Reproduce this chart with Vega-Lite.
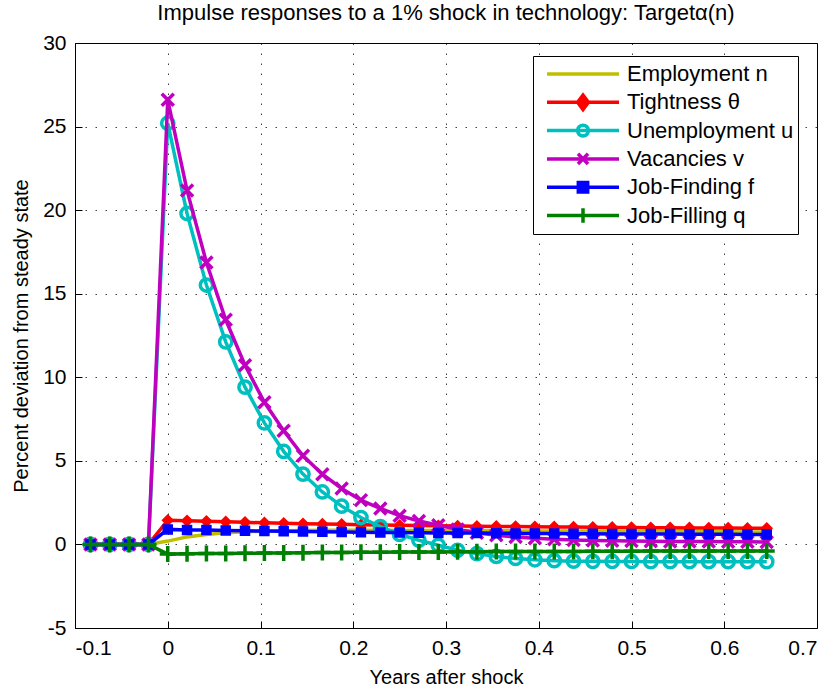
{
  "$schema": "https://vega.github.io/schema/vega-lite/v6.json",
  "autosize": {"type": "none"},
  "width": 742,
  "height": 585,
  "padding": {"left": 75, "top": 43, "right": 20, "bottom": 62},
  "background": "#ffffff",
  "title": {
    "text": "Impulse responses to a 1% shock in technology: Targetα(n)",
    "font": "Liberation Sans",
    "fontSize": 22,
    "fontWeight": "normal",
    "color": "#000000",
    "anchor": "middle",
    "offset": 7
  },
  "config": {
    "view": {"stroke": "#000000", "strokeWidth": 1},
    "axis": {
      "labelFont": "Liberation Sans",
      "labelFontSize": 21,
      "labelColor": "#000000",
      "titleFont": "Liberation Sans",
      "titleFontSize": 20,
      "titleFontWeight": "normal",
      "titleColor": "#000000",
      "domain": false,
      "grid": true,
      "gridColor": "#000000",
      "gridDash": [1.5, 8.5],
      "gridOpacity": 0.75,
      "tickColor": "#000000",
      "tickSize": -7,
      "labelPadding": 16
    },
    "legend": {
      "labelFont": "Liberation Sans",
      "labelFontSize": 22,
      "labelColor": "#000000",
      "labelLimit": 400
    }
  },
  "data": {
    "values": [
      {"x": -0.0833, "n": 0, "th": 0, "u": 0, "v": 0, "f": 0, "q": 0},
      {"x": -0.0625, "n": 0, "th": 0, "u": 0, "v": 0, "f": 0, "q": 0},
      {"x": -0.0417, "n": 0, "th": 0, "u": 0, "v": 0, "f": 0, "q": 0},
      {"x": -0.0208, "n": 0, "th": 0, "u": 0, "v": 0, "f": 0, "q": 0},
      {"x": 0, "n": 0.2, "th": 1.45, "u": 25.2, "v": 26.6, "f": 0.9, "q": -0.58},
      {"x": 0.0208, "n": 0.45, "th": 1.41, "u": 19.8, "v": 21.18, "f": 0.87, "q": -0.56},
      {"x": 0.0417, "n": 0.6, "th": 1.38, "u": 15.52, "v": 16.87, "f": 0.86, "q": -0.55},
      {"x": 0.0625, "n": 0.7, "th": 1.35, "u": 12.12, "v": 13.44, "f": 0.84, "q": -0.54},
      {"x": 0.0833, "n": 0.76, "th": 1.32, "u": 9.41, "v": 10.72, "f": 0.82, "q": -0.53},
      {"x": 0.1042, "n": 0.8, "th": 1.29, "u": 7.27, "v": 8.5, "f": 0.8, "q": -0.52},
      {"x": 0.125, "n": 0.82, "th": 1.27, "u": 5.57, "v": 6.8, "f": 0.79, "q": -0.51},
      {"x": 0.1458, "n": 0.84, "th": 1.24, "u": 4.21, "v": 5.3, "f": 0.77, "q": -0.5},
      {"x": 0.1667, "n": 0.85, "th": 1.22, "u": 3.14, "v": 4.2, "f": 0.76, "q": -0.49},
      {"x": 0.1875, "n": 0.85, "th": 1.2, "u": 2.29, "v": 3.35, "f": 0.74, "q": -0.48},
      {"x": 0.2083, "n": 0.85, "th": 1.18, "u": 1.61, "v": 2.65, "f": 0.73, "q": -0.47},
      {"x": 0.2292, "n": 0.85, "th": 1.16, "u": 1.07, "v": 2.15, "f": 0.72, "q": -0.47},
      {"x": 0.25, "n": 0.84, "th": 1.15, "u": 0.6, "v": 1.72, "f": 0.71, "q": -0.46},
      {"x": 0.2708, "n": 0.84, "th": 1.13, "u": 0.25, "v": 1.4, "f": 0.7, "q": -0.45},
      {"x": 0.2917, "n": 0.83, "th": 1.12, "u": -0.05, "v": 1.15, "f": 0.69, "q": -0.45},
      {"x": 0.3125, "n": 0.83, "th": 1.1, "u": -0.35, "v": 0.9, "f": 0.68, "q": -0.44},
      {"x": 0.3333, "n": 0.82, "th": 1.09, "u": -0.55, "v": 0.7, "f": 0.68, "q": -0.44},
      {"x": 0.3542, "n": 0.82, "th": 1.08, "u": -0.72, "v": 0.55, "f": 0.67, "q": -0.43},
      {"x": 0.375, "n": 0.81, "th": 1.07, "u": -0.84, "v": 0.45, "f": 0.66, "q": -0.43},
      {"x": 0.3958, "n": 0.81, "th": 1.06, "u": -0.92, "v": 0.37, "f": 0.66, "q": -0.42},
      {"x": 0.4167, "n": 0.8, "th": 1.05, "u": -0.97, "v": 0.31, "f": 0.65, "q": -0.42},
      {"x": 0.4375, "n": 0.8, "th": 1.04, "u": -1.0, "v": 0.27, "f": 0.64, "q": -0.42},
      {"x": 0.4583, "n": 0.79, "th": 1.03, "u": -1.01, "v": 0.24, "f": 0.64, "q": -0.41},
      {"x": 0.4792, "n": 0.79, "th": 1.02, "u": -1.02, "v": 0.22, "f": 0.63, "q": -0.41},
      {"x": 0.5, "n": 0.78, "th": 1.01, "u": -1.02, "v": 0.2, "f": 0.63, "q": -0.41},
      {"x": 0.5208, "n": 0.78, "th": 1.0, "u": -1.03, "v": 0.19, "f": 0.62, "q": -0.4},
      {"x": 0.5417, "n": 0.77, "th": 1.0, "u": -1.03, "v": 0.18, "f": 0.62, "q": -0.4},
      {"x": 0.5625, "n": 0.77, "th": 0.99, "u": -1.03, "v": 0.17, "f": 0.61, "q": -0.4},
      {"x": 0.5833, "n": 0.76, "th": 0.98, "u": -1.03, "v": 0.17, "f": 0.61, "q": -0.4},
      {"x": 0.6042, "n": 0.76, "th": 0.98, "u": -1.03, "v": 0.16, "f": 0.61, "q": -0.39},
      {"x": 0.625, "n": 0.75, "th": 0.97, "u": -1.03, "v": 0.16, "f": 0.6, "q": -0.39},
      {"x": 0.6458, "n": 0.75, "th": 0.97, "u": -1.03, "v": 0.15, "f": 0.6, "q": -0.39}
    ]
  },
  "transform": [
    {"fold": ["n", "th", "u", "v", "f", "q"], "as": ["series", "y"]}
  ],
  "encoding": {
    "x": {
      "field": "x",
      "type": "quantitative",
      "scale": {"domain": [-0.1, 0.7], "nice": false, "zero": false},
      "axis": {
        "title": "Years after shock",
        "values": [-0.1, 0, 0.1, 0.2, 0.3, 0.4, 0.5, 0.6, 0.7],
        "labelExpr": "replace(format(datum.value, '.1~f'), '\u2212', '-')",
        "titlePadding": 9
      }
    },
    "y": {
      "field": "y",
      "type": "quantitative",
      "scale": {"domain": [-5, 30], "nice": false, "zero": false},
      "axis": {
        "title": "Percent deviation from steady state",
        "values": [-5, 0, 5, 10, 15, 20, 25, 30],
        "labelExpr": "replace(format(datum.value, 'd'), '\u2212', '-')",
        "titlePadding": 11
      }
    }
  },
  "layer": [
    {
      "transform": [{"filter": "datum.series === 'n'"}],
      "mark": {"type": "line", "color": "#bfbf00", "strokeWidth": 3.5}
    },
    {
      "transform": [{"filter": "datum.series === 'th'"}],
      "layer": [
        {"mark": {"type": "line", "color": "#ff0000", "strokeWidth": 3.5}},
        {"mark": {"type": "point", "shape": "diamond", "filled": true, "color": "#ff0000", "stroke": "#ff0000", "strokeWidth": 1.5, "size": 110, "opacity": 1}}
      ]
    },
    {
      "transform": [{"filter": "datum.series === 'u'"}],
      "layer": [
        {"mark": {"type": "line", "color": "#00bfbf", "strokeWidth": 3.5}},
        {"mark": {"type": "point", "shape": "circle", "filled": false, "color": "#00bfbf", "strokeWidth": 3.5, "size": 150, "opacity": 1}}
      ]
    },
    {
      "transform": [{"filter": "datum.series === 'v'"}],
      "layer": [
        {"mark": {"type": "line", "color": "#bf00bf", "strokeWidth": 3.5}},
        {"mark": {"type": "point", "shape": "M-1,-1L1,1M-1,1L1,-1", "filled": false, "color": "#bf00bf", "strokeWidth": 3.5, "size": 144, "opacity": 1}}
      ]
    },
    {
      "transform": [{"filter": "datum.series === 'f'"}],
      "layer": [
        {"mark": {"type": "line", "color": "#0000ff", "strokeWidth": 3.5}},
        {"mark": {"type": "point", "shape": "square", "filled": true, "color": "#0000ff", "stroke": "#0000ff", "strokeWidth": 1.5, "size": 81, "opacity": 1}}
      ]
    },
    {
      "transform": [{"filter": "datum.series === 'q'"}],
      "layer": [
        {"mark": {"type": "line", "color": "#008000", "strokeWidth": 3.5}},
        {"mark": {"type": "point", "shape": "M-1,0L1,0M0,-1L0,1", "filled": false, "color": "#008000", "strokeWidth": 3.5, "size": 256, "opacity": 1}}
      ]
    },
    {
      "mark": {"type": "point", "filled": false, "opacity": 0, "strokeWidth": 3.5},
      "encoding": {
        "color": {
          "field": "series",
          "type": "nominal",
          "scale": {
            "domain": ["n", "th", "u", "v", "f", "q"],
            "range": ["#bfbf00", "#ff0000", "#00bfbf", "#bf00bf", "#0000ff", "#008000"]
          },
          "legend": {
            "title": null,
            "orient": "none",
            "legendX": 458,
            "legendY": 13,
            "direction": "vertical",
            "symbolSize": 5184,
            "symbolStrokeWidth": 3.5,
            "symbolOpacity": 1,
            "clipHeight": 28,
            "rowPadding": 0.3,
            "padding": 4,
            "symbolOffset": 8,
            "labelOffset": 6,
            "labelLimit": 400,
            "strokeColor": "#000000",
            "fillColor": "#ffffff",
            "labelFontSize": 22,
            "labelExpr": "{'n': 'Employment n', 'th': 'Tightness θ', 'u': 'Unemployment u', 'v': 'Vacancies v', 'f': 'Job-Finding f', 'q': 'Job-Filling q'}[datum.value]"
          }
        },
        "shape": {
          "field": "series",
          "type": "nominal",
          "scale": {
            "domain": ["n", "th", "u", "v", "f", "q"],
            "range": [
              "M-1,0L1,0",
              "M-1,0L1,0M-0.15,0L0,-0.2L0.15,0L0,0.2ZM-0.07,0L0,-0.1L0.07,0L0,0.1ZM0,-0.2L0,0.2",
              "M-1,0L1,0M0.15,0L0.1386,0.0574L0.1061,0.1061L0.0574,0.1386L0,0.15L-0.0574,0.1386L-0.1061,0.1061L-0.1386,0.0574L-0.15,0L-0.1386,-0.0574L-0.1061,-0.1061L-0.0574,-0.1386L0,-0.15L0.0574,-0.1386L0.1061,-0.1061L0.1386,-0.0574Z",
              "M-1,0L1,0M-0.14,-0.14L0.14,0.14M-0.14,0.14L0.14,-0.14",
              "M-1,0L1,0M-0.13,-0.13L0.13,-0.13L0.13,0.13L-0.13,0.13ZM-0.05,-0.05L0.05,-0.05L0.05,0.05L-0.05,0.05ZM0,-0.13L0,0.13",
              "M-1,0L1,0M0,-0.2L0,0.2"
            ]
          },
          "legend": {
            "title": null,
            "orient": "none",
            "legendX": 458,
            "legendY": 13,
            "labelLimit": 400
          }
        }
      }
    }
  ]
}
